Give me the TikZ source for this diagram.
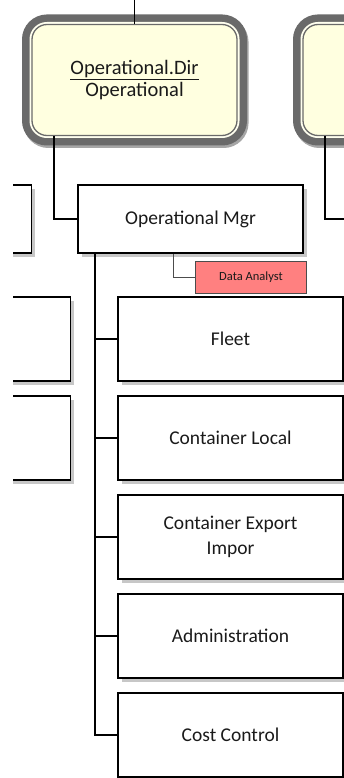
\documentclass[tikz,border=0pt]{standalone}
\usepackage{fontspec}
\setmainfont{Carlito}
\usetikzlibrary{positioning,shadows}
\definecolor{dirfill}{HTML}{FFFFE0}
\definecolor{dirrim}{HTML}{6A6A6A}
\definecolor{analyst}{HTML}{FF8080}
\definecolor{inktext}{HTML}{1A1A1A}

\tikzset{
  dirbox/.style={rounded corners=15pt, minimum width=205pt, minimum height=111pt, align=center,
    font=\fontsize{20.5}{22}\selectfont, text=inktext, fill=dirfill, draw=dirrim, line width=1.3pt,
    preaction={draw=black!35, line width=20pt, transform canvas={shift={(1.5pt,-2.5pt)}}},
    preaction={draw=dirrim, line width=20pt},
    preaction={draw=dirfill!50!white, line width=5pt}},
  unitbox/.style={draw, line width=1.5pt, fill=white, minimum width=225pt, align=center,
    font=\fontsize{19.5}{25}\selectfont, text=inktext,
    drop shadow={shadow xshift=3.5pt, shadow yshift=-3.5pt, fill=black!22, opacity=1}},
  staffbox/.style={draw=black!70, line width=0.8pt, fill=analyst, minimum width=111pt, minimum height=32pt,
    font=\fontsize{12.5}{14}\selectfont, text=inktext},
  link/.style={line width=1.5pt}
}

\begin{document}
\begin{tikzpicture}[x=1pt, y=-1pt]
  \useasboundingbox (0,0) rectangle (344,778);
  \clip (13,0) rectangle (344,778);
  \node[dirbox] (opdir) at (134.5,80) {\underline{Operational.Dir}\\Operational};
  \node[dirbox] (nextdir) at (405.5,80) {};
  \node[unitbox, minimum height=68pt] (opmgr) at (190.5,219) {Operational Mgr};
  \node[unitbox, minimum height=68pt, left=45pt of opmgr] (sidemgr) {};
  \node[staffbox] (analyst) at (251,277) {Data Analyst};
  \foreach \name/\txt [count=\i] in {fleet/Fleet, local/Container Local, export/{Container Export\\Impor},
      admin/Administration, cost/Cost Control}
    \node[unitbox, minimum height=84pt] (\name) at (230.5,240+99*\i) {\txt};
  \node[unitbox, minimum height=84pt, left=46pt of fleet] (sidea) {};
  \node[unitbox, minimum height=84pt, left=46pt of local] (sideb) {};
  \coordinate (top) at (134.5,0);
  \coordinate (offright) at (350,219);
  \draw[link] (top) -- (opdir.north);
  \draw[link] ([xshift=-80.5pt]opdir.south) |- (opmgr.west);
  \draw[link] ([xshift=-80.5pt]nextdir.south) |- (offright);
  \draw[line width=0.8pt, black!70] ([xshift=-17.5pt]opmgr.south) |- (analyst.west);
  \foreach \name in {fleet, local, export, admin, cost}
    \draw[link] ([xshift=-95.5pt]opmgr.south) |- (\name.west);
\end{tikzpicture}
\end{document}
